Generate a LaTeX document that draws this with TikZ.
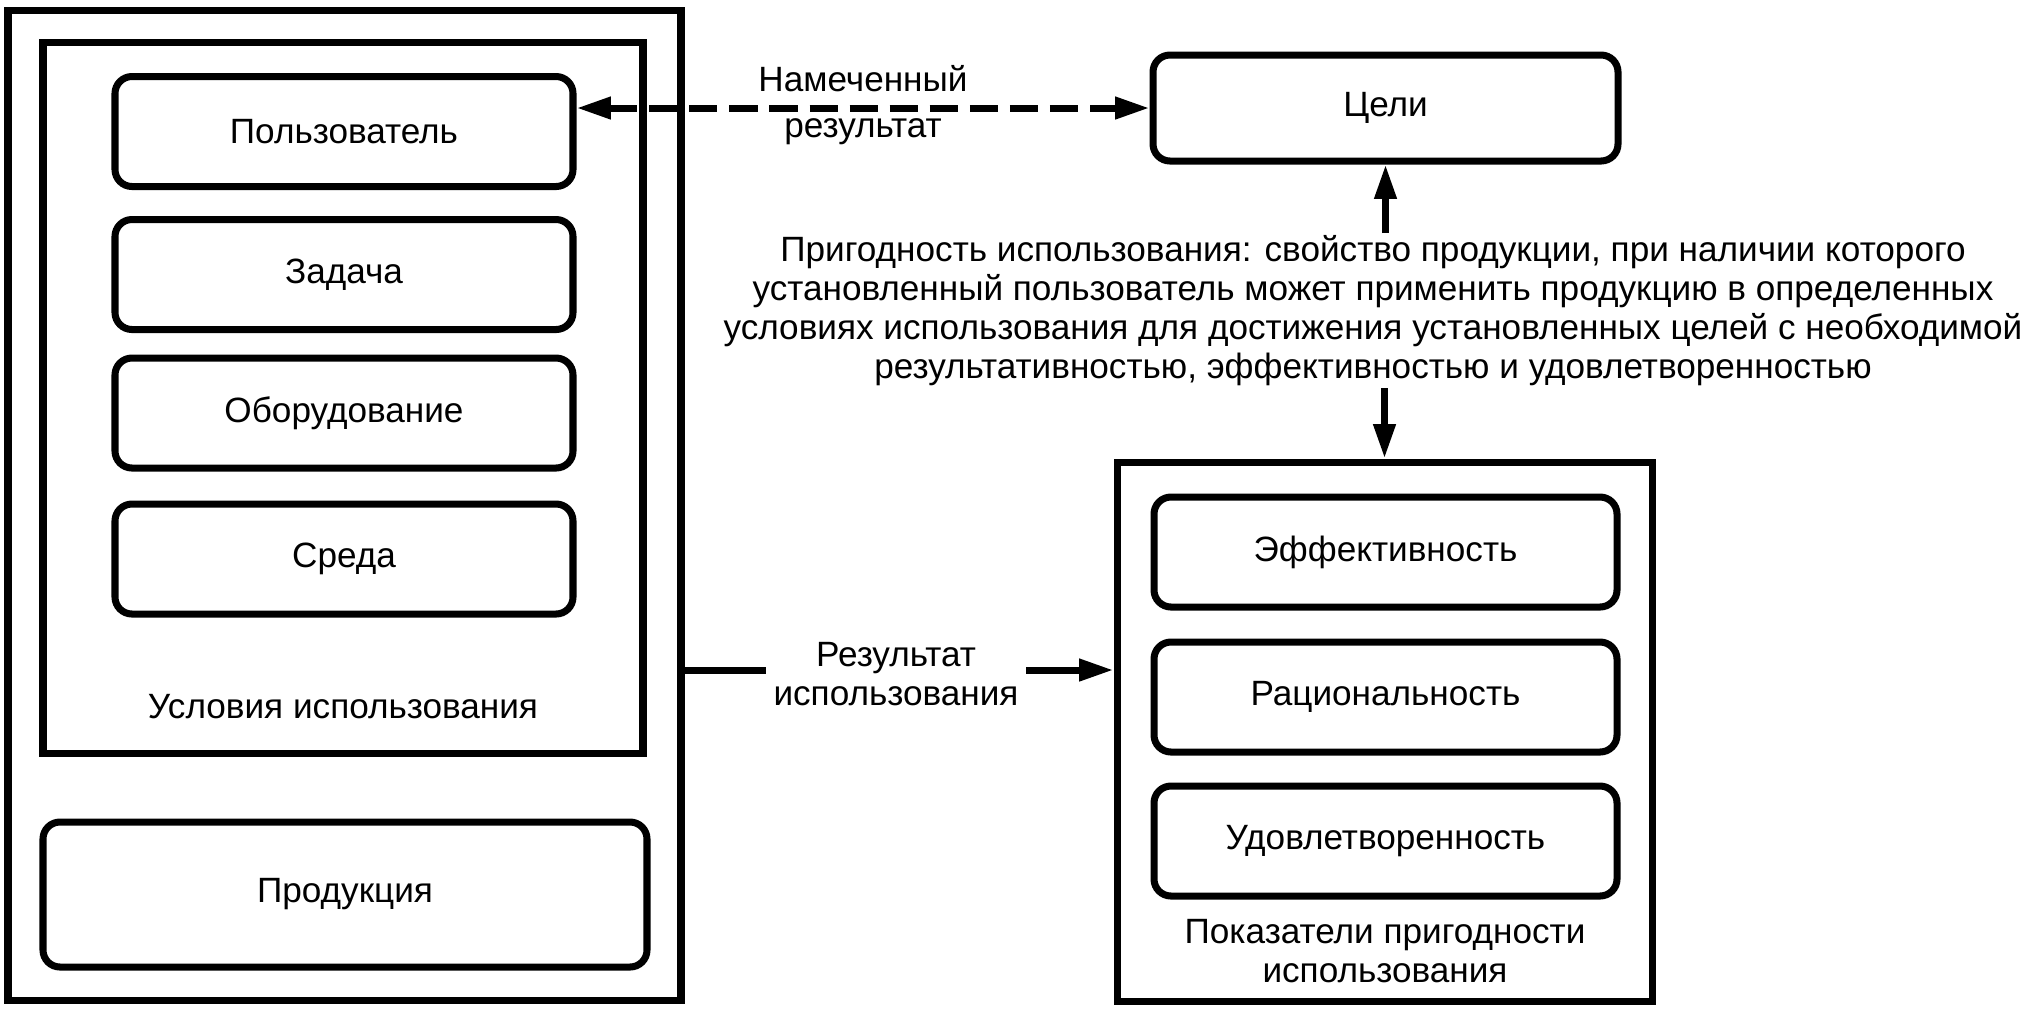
\documentclass[tikz,border=0pt]{standalone}
\usepackage{fontspec}
\setmainfont{Liberation Sans}
\usetikzlibrary{arrows.meta}
\begin{document}
\begin{tikzpicture}[x=1cm,y=1cm,line width=2pt,
  font=\fontsize{10}{11.1}\selectfont,
  frame/.style={draw,rectangle,inner sep=0pt},
  rbox/.style={draw,rectangle,rounded corners=0.17cm,inner sep=0pt,minimum width=4.58cm,minimum height=1.10cm},
  pbox/.style={draw,rectangle,rounded corners=0.17cm,inner sep=0pt,minimum width=4.63cm,minimum height=1.10cm},
  lbl/.style={align=center,inner sep=1pt},
  tip/.tip={Triangle[length=9.8pt,width=6pt]},
  arr/.style={-tip},
  darr/.style={tip-tip,dash pattern=on 8pt off 3.4pt}
]
\useasboundingbox (0,0) rectangle (20.21,-10.09);

% left side
\node[frame,minimum width=6.73cm,minimum height=9.90cm] (outer) at (3.445,-5.05) {};
\node[frame,minimum width=6.00cm,minimum height=7.11cm] (inner) at (3.43,-3.975) {};
\node[rbox] (polz) at (3.44,-1.315) {Пользователь};
\node[rbox] (zad) at (3.44,-2.745) {Задача};
\node[rbox] (obor) at (3.44,-4.13) {Оборудование};
\node[rbox] (sreda) at (3.44,-5.59) {Среда};
\node[lbl] (usl) at (3.43,-7.07) {Условия использования};
\node[draw,rectangle,rounded corners=0.17cm,minimum width=6.04cm,minimum height=1.45cm] (prod) at (3.45,-8.945) {Продукция};

% right side
\node[draw,rectangle,rounded corners=0.17cm,minimum width=4.65cm,minimum height=1.06cm] (celi) at (13.855,-1.08) {Цели};
\node[frame,minimum width=5.35cm,minimum height=5.39cm] (pok) at (13.845,-7.315) {};
\node[pbox] (eff) at (13.855,-5.52) {Эффективность};
\node[pbox] (rac) at (13.855,-6.97) {Рациональность};
\node[pbox] (udo) at (13.855,-8.41) {Удовлетворенность};
\node[lbl] (pokl) at (13.85,-9.51) {Показатели пригодности\\использования};

% definition text
\node[lbl] (def) at (13.73,-3.105) {Пригодность использования: свойство продукции, при наличии которого\\
установленный пользователь может применить продукцию в определенных\\
условиях использования для достижения установленных целей с необходимой\\
результативностью, эффективностью и удовлетворенностью};

% connectors
\draw[darr] (polz.east |- celi.west) -- (celi.west);
\node[lbl] (nam) at (8.63,-1.05) {Намеченный\\[2pt]результат};

\draw[arr] (celi.south |- 0,-2.33) -- (celi.south);
\draw[arr] (pok.north |- 0,-3.88) -- (pok.north);

\draw[arr] (outer.east |- 0,-6.70) -- (pok.west |- 0,-6.70);
\node[lbl,fill=white,inner xsep=2pt,inner ysep=0pt] (res) at (8.96,-6.74) {Результат\\использования};
\end{tikzpicture}
\end{document}
